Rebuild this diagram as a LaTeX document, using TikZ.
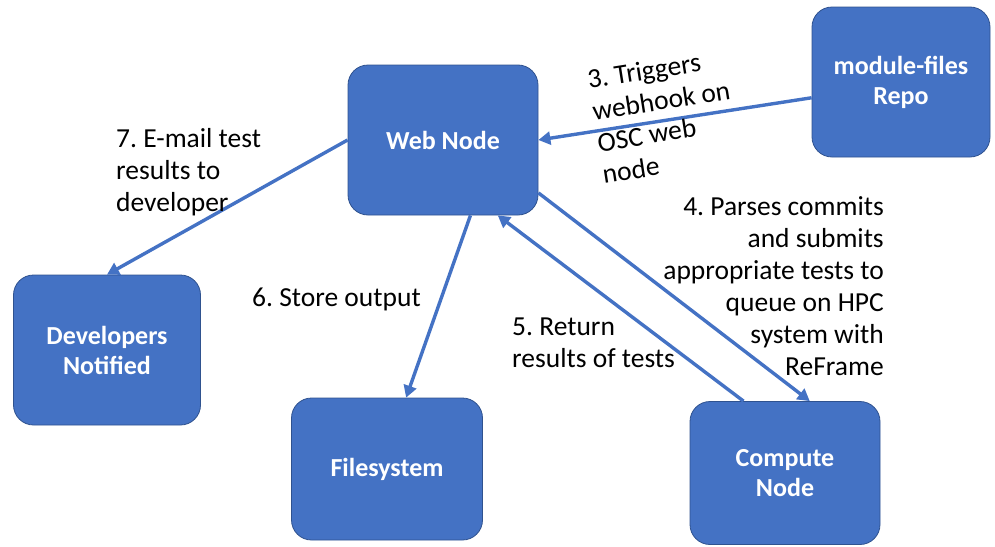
\documentclass[tikz,border=0pt]{standalone}
\usepackage{fontspec}
\setmainfont{Carlito}
\usepackage{xcolor}
\usetikzlibrary{arrows.meta}
\frenchspacing
\definecolor{boxblue}{HTML}{4472C4}
\definecolor{boxedge}{HTML}{2F528F}
\tikzset{
	box/.style={
			draw=boxedge, line width=0.8pt, fill=boxblue, rounded corners=20pt,
			text=white, font=\fontsize{26}{30}\selectfont\bfseries, align=center, inner sep=0pt
		},
	lbl/.style={font=\fontsize{27.5}{32}\selectfont, inner sep=0pt},
	flow/.style={draw=boxblue, line width=3.4pt, -{Triangle[length=12pt,width=13pt]}}
}

\begin{document}
\begin{tikzpicture}[x=1pt,y=-1pt]
	\useasboundingbox (0,0) rectangle (995,546);

	% boxes
	\node[box, minimum width=190pt, minimum height=150pt] (web) at (443,140) {Web Node};
	\node[box, minimum width=178pt, minimum height=150pt] (repo) at (901,82) {module-files\\Repo};
	\node[box, minimum width=187pt, minimum height=150pt] (dev) at (107,350) {Developers\\Notified};
	\node[box, minimum width=191pt, minimum height=142pt] (fs) at (387,469) {Filesystem};
	\node[box, minimum width=190pt, minimum height=143pt] (comp) at (785,473) {Compute\\Node};

	% arrows
	\draw[flow] (repo.190) -- (web.east);
	\draw[flow] (web.west) -- (dev.north);
	\draw[flow] (web.290) -- (fs.75);
	\draw[flow] (web.331) -- (comp.71);
	\draw[flow] (comp.120) -- (web.306);

	% step labels
	\node[lbl, anchor=north west, align=left, rotate=9] (l3) at (586,70) {3. Triggers\\webhook on\\OSC web\\node};
	\node[lbl, anchor=north east, align=right] (l4) at (884,196) {4. Parses commits\\and submits\\appropriate tests to\\queue on HPC\\system with\\ReFrame};
	\node[lbl, anchor=north west, align=left] (l5) at (512,318) {5. Return\\results of tests};
	\node[lbl, anchor=base west] (l6) at (252,306) {6. Store output};
	\node[lbl, anchor=north west, align=left] (l7) at (116,128) {7. E-mail test\\results to\\developer};
\end{tikzpicture}
\end{document}
